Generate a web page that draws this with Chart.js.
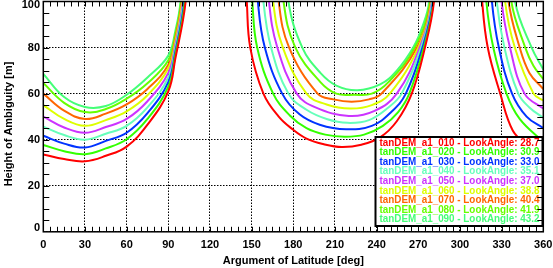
<!DOCTYPE html>
<html>
<head>
<meta charset="utf-8">
<script src="https://cdn.jsdelivr.net/npm/chart.js@4.4.0/dist/chart.umd.min.js"></script>
<style>
  html, body { margin: 0; padding: 0; background: #fff; }
  #wrap { width: 553px; height: 268px; }
</style>
</head>
<body>
<div id="wrap"><canvas id="hoaChart" width="553" height="268"></canvas></div>
<script>
const xTicks = [0, 30, 60, 90, 120, 150, 180, 210, 240, 270, 300, 330, 360];
const yTicks = [0, 20, 40, 60, 80, 100];

const seriesNames = ["tanDEM_a1_010", "tanDEM_a1_020", "tanDEM_a1_030", "tanDEM_a1_040", "tanDEM_a1_050",
    "tanDEM_a1_060", "tanDEM_a1_070", "tanDEM_a1_080", "tanDEM_a1_090"];
const lookAngles = [28.7, 30.9, 33.0, 35.1, 37.0, 38.8, 40.4, 41.9, 43.2];
const lineColors = ["#ff0000", "#33ff00", "#0033ff", "#66ffbb", "#cc33ff", "#ddff00", "#ff6600", "#66ff00", "#44ff77"];

// [argument of latitude, height of ambiguity], null = curve leaves the plot
const hoa010 = [[0, 33.6], [15, 31.6], [30, 30.6], [45, 33], [60, 37], [75, 46.5], [90, 61], [95, 75], [102.5, 100], [105, 130],
    [125, null],
    [143.5, 130], [146.5, 100], [149, 80], [158.5, 60], [169.5, 50], [179.5, 44.5], [189.5, 40.5], [202, 38], [215, 36.8], [229, 37.8], [242.5, 41], [254.5, 48], [265.3, 60], [274.8, 80], [281.3, 100], [283.8, 130],
    [300, null],
    [313, 130], [316, 100], [320, 80], [329, 60], [338, 44], [348, 38], [360, 34.5]];
const hoa020 = [[0, 37.7], [15, 35], [30, 33.7], [45, 36.2], [60, 40.2], [75, 49], [90, 63], [95, 76.5], [102, 100], [104.5, 130],
    [125, null],
    [147.5, 130], [150.5, 100], [154, 80], [165.5, 60], [177.5, 50.5], [189.5, 45], [203, 42.2], [217, 41.3], [231, 42.2], [244.5, 46], [255.5, 52], [263.5, 60], [274, 80], [281, 100], [283.5, 130],
    [300, null],
    [316, 130], [319, 100], [324, 80], [333.5, 60], [343, 49], [360, 39]];
const hoa030 = [[0, 41.7], [15, 38.3], [30, 36.6], [45, 39.5], [60, 43], [75, 51.5], [90, 65], [95, 78], [101.5, 100], [104, 130],
    [125, null],
    [151.5, 130], [154.5, 100], [159.5, 80], [172, 60], [184.5, 51], [199, 46.5], [218, 44.5], [236.5, 46], [250.5, 52], [261, 60], [273, 80], [280.6, 100], [283, 130],
    [300, null],
    [320, 130], [323, 100], [328, 80], [337.5, 60], [348, 50], [360, 45]];
const hoa040 = [[0, 45.7], [15, 42], [30, 40], [45, 42.6], [60, 46], [75, 54], [90, 67], [95, 79.5], [101, 100], [103.5, 130],
    [125, null],
    [155.5, 130], [158.5, 100], [164, 80], [176.5, 60], [189.5, 53], [204, 49], [219, 47.3], [234.5, 48.5], [248.5, 54], [258, 60], [272, 80], [280.2, 100], [282.5, 130],
    [300, null],
    [323.5, 130], [326.5, 100], [332, 80], [342, 60], [350, 54], [360, 49.5]];
const hoa050 = [[0, 50], [15, 45.3], [30, 43], [45, 45.5], [60, 49], [75, 56.7], [90, 69], [95, 81], [100.5, 100], [103, 130],
    [125, null],
    [159.5, 130], [162.5, 100], [168.5, 80], [182.5, 60], [196, 54], [220, 50.3], [238.5, 52.5], [254.5, 60], [271, 80], [279.8, 100], [282, 130],
    [300, null],
    [327, 130], [330, 100], [336, 80], [346.5, 60], [360, 53.5]];
const hoa060 = [[0, 55], [15, 49], [30, 46], [45, 48.5], [60, 52.3], [75, 59.3], [90, 71], [95, 82.5], [100, 100], [102.5, 130],
    [125, null],
    [162.5, 130], [165.5, 100], [172.5, 80], [189.5, 60], [204, 55.3], [221, 53.5], [236.5, 55], [249.5, 60], [270, 80], [279.4, 100], [281.8, 130],
    [300, null],
    [329.5, 130], [332.5, 100], [339.5, 80], [353, 60], [360, 57]];
const hoa070 = [[0, 60], [15, 52.6], [30, 49], [45, 51.3], [60, 55.3], [75, 62], [90, 72.5], [95, 84], [99.6, 100], [102, 130],
    [125, null],
    [166.5, 130], [169.5, 100], [177, 80], [197.5, 60], [209, 57.5], [222, 56.5], [234.5, 57.5], [243.5, 60], [269, 80], [279, 100], [281.4, 130],
    [300, null],
    [332, 130], [335, 100], [343, 80], [350, 69], [360, 62]];
const hoa080 = [[0, 64.6], [15, 56], [30, 52], [45, 53.3], [60, 57.8], [75, 64.5], [90, 74.5], [95, 85.5], [99.2, 100], [101.7, 130],
    [125, null],
    [170.5, 130], [173, 100], [181.5, 80], [199.5, 65], [211, 60], [224, 59.5], [236.5, 60], [248.5, 65], [267.5, 80], [278.5, 100], [281, 130],
    [300, null],
    [334, 130], [337, 100], [347, 80], [353, 72], [360, 66.3]];
const hoa090 = [[0, 68.6], [15, 58.5], [30, 54.2], [45, 54.6], [60, 59.5], [75, 67], [90, 76.5], [95, 87], [98.8, 100], [101.3, 130],
    [125, null],
    [173.5, 130], [176.5, 100], [186.5, 80], [199.5, 69], [211, 63.5], [226, 61.5], [242.5, 64], [254.5, 70], [266.3, 80], [273.5, 90], [277.8, 100], [280, 130],
    [300, null],
    [337, 130], [339.7, 100], [351.6, 80], [360, 70.5]];

const allSeries = [hoa010, hoa020, hoa030, hoa040, hoa050, hoa060, hoa070, hoa080, hoa090];
const fontFamily = '"Liberation Sans", Arial, sans-serif';

const datasets = allSeries.map((pts, i) => ({
    label: seriesNames[i],
    data: pts.map(p => ({ x: p[0], y: p[1] })),
    borderColor: lineColors[i],
    backgroundColor: lineColors[i],
    borderWidth: 2,
    pointRadius: 0,
    tension: 0.4,
    capBezierPoints: false,
    spanGaps: false
}));

// frame, inward ticks, y labels, y title and the legend box
const plotDecor = {
    id: "plotDecor",
    afterDraw(chart) {
        const ctx = chart.ctx;
        const a = chart.chartArea;
        const xs = chart.scales.x;
        const ys = chart.scales.y;
        ctx.save();

        // legend box
        const bx = 375.5, by = 137, bw = 167, bh = 89;
        ctx.fillStyle = "#fff";
        ctx.fillRect(bx, by, bw, bh);
        ctx.strokeStyle = "#000";
        ctx.lineWidth = 2;
        ctx.strokeRect(bx, by, bw, bh);
        ctx.font = "bold 10px " + fontFamily;
        ctx.textAlign = "left";
        ctx.textBaseline = "middle";
        seriesNames.forEach((name, i) => {
            ctx.fillStyle = lineColors[i];
            ctx.fillText(name + " - LookAngle: " + lookAngles[i].toFixed(1), 379.5, 142.8 + i * 9.6, 160);
        });

        // frame
        ctx.strokeStyle = "#000";
        ctx.lineWidth = 1.5;
        ctx.strokeRect(a.left, a.top, a.right - a.left, a.bottom - a.top);

        // inward minor ticks every 5 units
        ctx.lineWidth = 1;
        ctx.beginPath();
        for (let v = 5; v < 360; v += 5) {
            const px = Math.round(xs.getPixelForValue(v)) + 0.5;
            ctx.moveTo(px, a.bottom); ctx.lineTo(px, a.bottom - 5);
            ctx.moveTo(px, a.top); ctx.lineTo(px, a.top + 5);
        }
        for (let v = 5; v < 100; v += 5) {
            const py = Math.round(ys.getPixelForValue(v)) + 0.5;
            ctx.moveTo(a.left, py); ctx.lineTo(a.left + 6, py);
            ctx.moveTo(a.right, py); ctx.lineTo(a.right - 6, py);
        }
        ctx.stroke();

        // y tick labels
        ctx.fillStyle = "#000";
        ctx.font = "bold 11px " + fontFamily;
        ctx.textAlign = "right";
        ctx.textBaseline = "middle";
        yTicks.forEach(v => {
            let py = ys.getPixelForValue(v);
            py = Math.min(Math.max(py, a.top + 3.5), a.bottom - 3.8);
            ctx.fillText(String(v), 40, py);
        });

        // y title
        ctx.translate(9, 124);
        ctx.rotate(-Math.PI / 2);
        ctx.textAlign = "center";
        ctx.fillText("Height of Ambiguity [m]", 0, 0);
        ctx.restore();
    }
};

new Chart(document.getElementById("hoaChart"), {
    type: "line",
    data: { datasets: datasets },
    options: {
        responsive: false,
        animation: false,
        devicePixelRatio: 1,
        layout: { padding: { top: 1.5, right: 9.7, left: 0, bottom: 0 } },
        plugins: { legend: { display: false }, tooltip: { enabled: false } },
        scales: {
            x: {
                type: "linear",
                min: 0,
                max: 360,
                afterBuildTicks: s => { s.ticks = xTicks.map(v => ({ value: v })); },
                afterFit: s => { s.height = 36.2; s.paddingLeft = 0; s.paddingRight = 0; },
                grid: { color: "#000", lineWidth: 1, drawTicks: false },
                border: { display: false, dash: [1.5, 1.5] },
                ticks: {
                    color: "#000",
                    padding: 7,
                    maxRotation: 0,
                    autoSkip: false,
                    font: { family: fontFamily, weight: "bold", size: 11 }
                },
                title: {
                    display: true,
                    text: "Argument of Latitude [deg]",
                    color: "#000",
                    padding: { top: 3, bottom: 0 },
                    font: { family: fontFamily, weight: "bold", size: 11 }
                }
            },
            y: {
                type: "linear",
                min: 0,
                max: 100,
                afterBuildTicks: s => { s.ticks = yTicks.map(v => ({ value: v })); },
                afterFit: s => { s.width = 43.3; s.paddingTop = 0; s.paddingBottom = 0; },
                grid: { color: "#000", lineWidth: 1, drawTicks: false },
                border: { display: false, dash: [1.5, 1.5] },
                ticks: { display: false }
            }
        }
    },
    plugins: [plotDecor]
});
</script>
</body>
</html>
